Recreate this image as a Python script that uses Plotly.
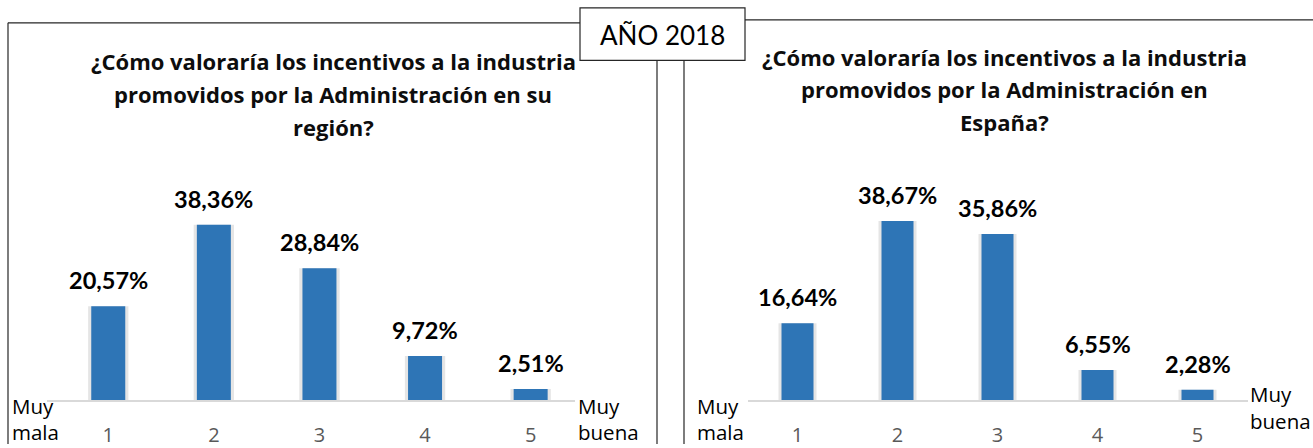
import plotly.graph_objects as go

# Survey results: rating of industry incentives (1 = very bad, 5 = very good)
categories = [1, 2, 3, 4, 5]
tick_labels = ["1", "2", "3", "4", "5"]
region_pct = [20.57, 38.36, 28.84, 9.72, 2.51]
spain_pct = [16.64, 38.67, 35.86, 6.55, 2.28]

region_title = ["¿Cómo valoraría los incentivos a la industria",
                "promovidos por la Administración en su",
                "región?"]
spain_title = ["¿Cómo valoraría los incentivos a la industria",
               "promovidos por la Administración en",
               "España?"]
year_label = "AÑO 2018"

W, H = 1313, 448
FONT = "Lato"
TEXT_FONT = "Open Sans"
BAR_COLOR = "#2E75B6"


def px(x):
    return x / W


def py(y):
    return 1 - y / H


def pct(v):
    return f"{v:.2f}%".replace(".", ",")


fig = go.Figure()

panels = [
    dict(vals=region_pct, xa="x", ya="y", xdom=(47, 575), xr=(0.42, 5.42),
         ytop=150, scale=4.62, width=0.322, title=region_title,
         tcx=333, tys=(62, 95, 128), muy_mala=(12, 410, 436),
         muy_buena=(578, 410, 436)),
    dict(vals=spain_pct, xa="x2", ya="y2", xdom=(748, 1248), xr=(0.505, 5.505),
         ytop=150, scale=4.68, width=0.32, title=spain_title,
         tcx=1004, tys=(58, 90, 123), muy_mala=(697, 410, 436),
         muy_buena=(1250, 398, 425)),
]

annotations = []
for i, p in enumerate(panels):
    # soft shadow behind each bar
    fig.add_trace(go.Bar(x=categories, y=p["vals"], xaxis=p["xa"], yaxis=p["ya"],
                         width=p["width"] + 0.06, marker_color="rgba(0,0,0,0.10)",
                         marker_line_width=0, hoverinfo="skip", showlegend=False))
    fig.add_trace(go.Bar(x=categories, y=p["vals"], xaxis=p["xa"], yaxis=p["ya"],
                         width=p["width"], marker_color=BAR_COLOR,
                         marker_line_width=0, showlegend=False))
    suffix = "" if i == 0 else "2"
    yr_max = (404 - p["ytop"]) / p["scale"]
    fig.layout["xaxis" + suffix] = dict(
        domain=[px(p["xdom"][0]), px(p["xdom"][1])], range=list(p["xr"]),
        anchor="y" + suffix, showline=True, linecolor="#D9D9D9", linewidth=1.5,
        showgrid=False, zeroline=False, tickmode="array", tickvals=categories,
        ticktext=tick_labels, ticks="outside", ticklen=16,
        tickcolor="rgba(0,0,0,0)",
        tickfont=dict(family=TEXT_FONT, size=20, color="#595959"), fixedrange=True)
    fig.layout["yaxis" + suffix] = dict(
        domain=[py(404), py(p["ytop"])], range=[0, yr_max], anchor="x" + suffix,
        visible=False, showgrid=False, zeroline=False, fixedrange=True)

    # value labels above bars
    for c, v in zip(categories, p["vals"]):
        annotations.append(dict(x=c, y=v, xref=p["xa"], yref=p["ya"], text=pct(v),
                                showarrow=False, yanchor="bottom", yshift=10,
                                font=dict(family=FONT, size=23.5, color="#000000",
                                          weight="bold")))
    # chart title, one line per annotation
    for line, ty in zip(p["title"], p["tys"]):
        annotations.append(dict(x=px(p["tcx"]), y=py(ty), xref="paper", yref="paper",
                                text=line, showarrow=False, xanchor="center",
                                yanchor="middle",
                                font=dict(family=TEXT_FONT, size=22, color="#0D0D0D",
                                          weight="bold")))
    # scale end labels
    for (lx, y1, y2), words in ((p["muy_mala"], ("Muy", "mala")),
                                (p["muy_buena"], ("Muy", "buena"))):
        for word, ty in zip(words, (y1, y2)):
            annotations.append(dict(x=px(lx), y=py(ty), xref="paper", yref="paper",
                                    text=word, showarrow=False, xanchor="left",
                                    yanchor="middle", xshift=-2,
                                    font=dict(family=TEXT_FONT, size=20.5,
                                              color="#000000")))

# year box
annotations.append(dict(x=px(662.5), y=py(35), xref="paper", yref="paper",
                        text=year_label, showarrow=False, xanchor="center",
                        yanchor="middle",
                        font=dict(family=FONT, size=26, color="#000000")))

LINE = dict(color="#262626", width=1.2)
shapes = [
    # left panel frame
    dict(type="line", xref="paper", yref="paper", x0=px(8), x1=px(8), y0=py(23), y1=0, line=LINE),
    dict(type="line", xref="paper", yref="paper", x0=px(8), x1=px(580), y0=py(23), y1=py(23), line=LINE),
    dict(type="line", xref="paper", yref="paper", x0=px(657), x1=px(657), y0=py(61), y1=0, line=LINE),
    # right panel frame
    dict(type="line", xref="paper", yref="paper", x0=px(684), x1=px(684), y0=py(61), y1=0, line=LINE),
    dict(type="line", xref="paper", yref="paper", x0=px(745), x1=1, y0=py(20), y1=py(20), line=LINE),
    # year box
    dict(type="rect", xref="paper", yref="paper", x0=px(580), x1=px(745), y0=py(61), y1=py(8),
         line=LINE, fillcolor="white"),
]

fig.update_layout(
    width=W, height=H, margin=dict(l=0, r=0, t=0, b=0),
    paper_bgcolor="white", plot_bgcolor="white", barmode="overlay",
    annotations=annotations, shapes=shapes, showlegend=False,
    font=dict(family=FONT),
)

fig.write_html("out.html", config={"displayModeBar": False})
